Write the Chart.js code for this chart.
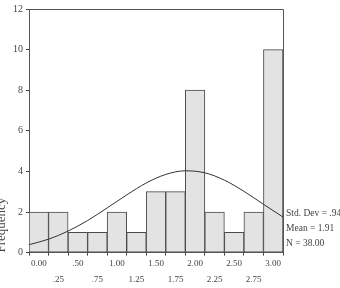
<!DOCTYPE html>
<html>
<head>
<meta charset="utf-8">
<script src="https://cdn.jsdelivr.net/npm/chart.js@4.4.1/dist/chart.umd.min.js"></script>
<style>
  html, body { margin: 0; padding: 0; background: #fff; }
  #wrap { width: 340px; height: 288px; }
</style>
</head>
<body>
<div id="wrap"><canvas id="chart" width="340" height="288"></canvas></div>
<script>
// bin centres and counts
const binCenters = [0, 0.25, 0.5, 0.75, 1, 1.25, 1.5, 1.75, 2, 2.25, 2.5, 2.75, 3];
const counts = [2, 2, 1, 1, 2, 1, 3, 3, 8, 2, 1, 2, 10];
const xTickLabels = ['0.00', '.25', '.50', '.75', '1.00', '1.25', '1.50', '1.75', '2.00', '2.25', '2.50', '2.75', '3.00'];

// normal curve, at bin edges
const curveX = [-0.125, 0.125, 0.375, 0.625, 0.875, 1.125, 1.375, 1.625, 1.875, 2.125, 2.375, 2.625, 2.875, 3.125];
const curveY = [0.39, 0.66, 1.06, 1.58, 2.2, 2.84, 3.43, 3.85, 4.03, 3.93, 3.57, 3.02, 2.38, 1.75];

const statLines = ['Std. Dev = .94', 'Mean = 1.91', 'N = 38.00'];

const textColor = '#444';

// box round the plot area plus the stats text on the right
const framePlugin = {
    id: 'frame',
    afterDatasetsDraw(chart) {
        const { ctx, chartArea } = chart;
        ctx.save();
        ctx.strokeStyle = '#555';
        ctx.lineWidth = 1;
        ctx.beginPath();
        ctx.moveTo(chartArea.left, chartArea.top + 0.5);
        ctx.lineTo(chartArea.right + 0.5, chartArea.top + 0.5);
        ctx.lineTo(chartArea.right + 0.5, chartArea.bottom);
        ctx.stroke();

        ctx.fillStyle = textColor;
        ctx.font = '9.5px "Liberation Serif"';
        ctx.textBaseline = 'middle';
        ctx.textAlign = 'left';
        const x = chartArea.right + 3;
        statLines.forEach((t, i) => {
            ctx.fillText(t, x, 213 + i * 15);
        });
        ctx.restore();
    }
};

new Chart(document.getElementById('chart'), {
    type: 'bar',
    data: {
        datasets: [
            {
                type: 'line',
                data: curveX.map((x, i) => ({ x: x, y: curveY[i] })),
                borderColor: '#333',
                borderWidth: 1,
                pointRadius: 0,
                cubicInterpolationMode: 'monotone',
                fill: false,
                order: 0
            },
            {
                type: 'bar',
                data: binCenters.map((x, i) => ({ x: x, y: counts[i] })),
                backgroundColor: '#e3e3e3',
                borderColor: '#4a4a4a',
                borderWidth: 1,
                borderSkipped: false,
                barPercentage: 1,
                categoryPercentage: 1,
                order: 1
            }
        ]
    },
    plugins: [framePlugin],
    options: {
        responsive: false,
        animation: false,
        layout: { padding: { top: 6, right: 57, left: -5, bottom: 0 } },
        plugins: {
            legend: { display: false },
            tooltip: { enabled: false }
        },
        scales: {
            x: {
                type: 'linear',
                min: -0.125,
                max: 3.125,
                offset: false,
                afterBuildTicks: axis => {
                    axis.ticks = binCenters.map(v => ({ value: v }));
                },
                ticks: {
                    autoSkip: false,
                    maxRotation: 0,
                    color: textColor,
                    font: { family: 'Liberation Serif', size: 9, lineHeight: 1.8 },
                    padding: 0,
                    callback: (value, index) => index % 2 === 0 ? [xTickLabels[index], ''] : ['', xTickLabels[index]]
                },
                grid: { drawOnChartArea: false, tickLength: 3, color: '#444' },
                border: { color: '#555' }
            },
            y: {
                min: 0,
                max: 12,
                ticks: { stepSize: 2, color: textColor, font: { family: 'Liberation Serif', size: 10 }, padding: 3 },
                grid: { drawOnChartArea: false, tickLength: 3, color: '#444' },
                border: { color: '#555' },
                title: {
                    display: true,
                    text: 'Frequency',
                    align: 'start',
                    color: textColor,
                    font: { family: 'Liberation Serif', size: 13, lineHeight: 1 },
                    padding: { top: 0, bottom: 2 }
                }
            }
        }
    }
});
</script>
</body>
</html>
